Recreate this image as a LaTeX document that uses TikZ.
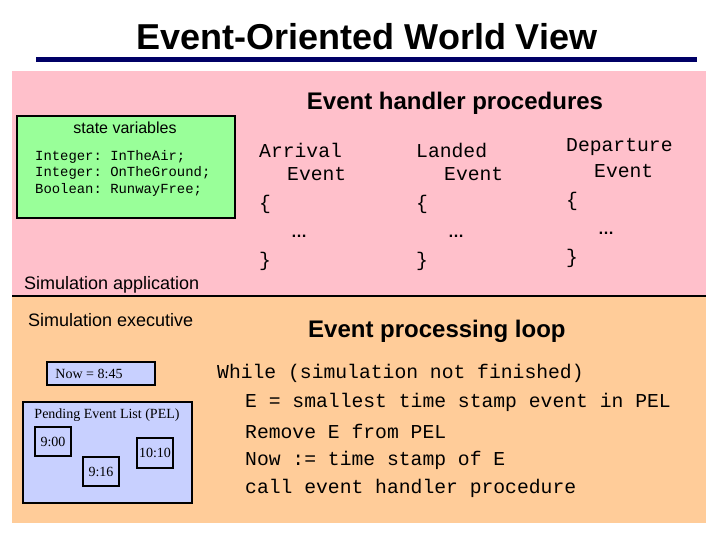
\documentclass[tikz,border=0pt]{standalone}
\usepackage{fontspec}
\setmainfont{Liberation Serif}
\setsansfont{Liberation Sans}
\setmonofont{Liberation Mono}
\definecolor{pinkbg}{HTML}{FFC0CB}
\definecolor{orangebg}{HTML}{FFCC99}
\definecolor{greenbg}{HTML}{99FF99}
\definecolor{bluebg}{HTML}{C8D0FF}
\definecolor{navy}{HTML}{000066}
\tikzset{
  sans/.style={font=\sffamily, inner sep=0pt},
  mono/.style={font=\ttfamily\fontsize{19.7}{19.7}\selectfont, inner sep=0pt, anchor=west},
  code/.style={font=\ttfamily\fontsize{13.9}{13.9}\selectfont, inner sep=0pt, anchor=west},
  serifbox/.style={draw, line width=1.5pt, fill=bluebg, font=\rmfamily\fontsize{14}{14}\selectfont, inner sep=0pt}
}
\begin{document}
\begin{tikzpicture}[x=1pt,y=-1pt]
\useasboundingbox (0,0) rectangle (720,540);
\fill[white] (0,0) rectangle (720,540);
\node[sans, font=\sffamily\bfseries\fontsize{36}{36}\selectfont] (title) at (367,37) {Event-Oriented World View};
\fill[navy] (36,57) rectangle (697,62);
\fill[pinkbg] (12,71) rectangle (706,295);
\fill[orangebg] (12,297) rectangle (706,523);
\draw[line width=2pt] (12,296) -- (706,296);
\node[sans, font=\sffamily\bfseries\fontsize{24}{24}\selectfont] (ehp) at (455,103) {Event handler procedures};
\node[draw, line width=1.5pt, fill=greenbg, minimum width=218pt, minimum height=102pt, inner sep=0pt] (sv) at (126,167) {};
\node[sans, font=\sffamily\fontsize{16}{16}\selectfont] (svt) at (125,128) {state variables};
\node[code] (c1) at (35,157) {Integer: InTheAir;};
\node[code] (c2) at (35,173) {Integer: OnTheGround;};
\node[code] (c3) at (35,190) {Boolean: RunwayFree;};
\foreach \n/\x/\y/\t in {a/259/150/Arrival, l/416/150/Landed, d/566/147/Departure}{
  \node[mono] (\n1) at (\x,\y) {\t};
  \node[mono] (\n2) at (\x+28,\y+24) {Event};
  \node[mono] (\n3) at (\x,\y+54) {\{};
  \node[sans, anchor=west, font=\sffamily\bfseries\fontsize{16}{16}\selectfont] (\n4) at (\x+32,\y+86) {…};
  \node[mono] (\n5) at (\x,\y+111) {\}};
}
\node[sans, anchor=west, font=\sffamily\fontsize{18}{18}\selectfont] (sa) at (24,285) {Simulation application};
\node[sans, anchor=west, font=\sffamily\fontsize{18}{18}\selectfont] (se) at (28,320) {Simulation executive};
\node[sans, anchor=west, font=\sffamily\bfseries\fontsize{24}{24}\selectfont] (epl) at (308,331) {Event processing loop};
\node[mono] (w1) at (217,373) {While (simulation not finished)};
\node[mono] (w2) at (245,402) {E = smallest time stamp event in PEL};
\node[mono] (w3) at (245,431) {Remove E from PEL};
\node[mono] (w4) at (245,460) {Now := time stamp of E};
\node[mono] (w5) at (245,488) {call event handler procedure};
\node[serifbox, minimum width=108pt, minimum height=23pt] (now) at (101,373.5) {};
\node[inner sep=0pt, font=\rmfamily\fontsize{14}{14}\selectfont] (nowt) at (89,374) {Now = 8:45};
\node[serifbox, minimum width=169pt, minimum height=101pt] (pel) at (107.5,452.5) {};
\node[inner sep=0pt, font=\rmfamily\fontsize{14}{14}\selectfont] (pelt) at (107,415) {Pending Event List (PEL)};
\node[serifbox, minimum width=36pt, minimum height=29pt] (e1) at (53,441.5) {9:00};
\node[serifbox, minimum width=36pt, minimum height=29pt] (e2) at (101,471.5) {9:16};
\node[serifbox, minimum width=36pt, minimum height=30pt] (e3) at (155,453) {10:10};
\end{tikzpicture}
\end{document}
